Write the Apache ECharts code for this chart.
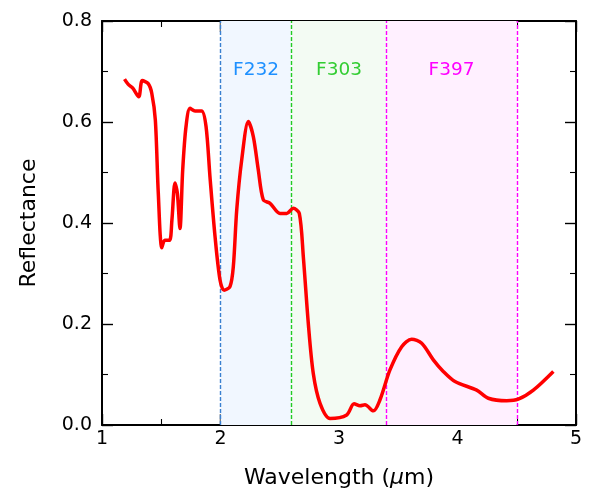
<!DOCTYPE html>
<html>
<head>
    <title>Reflectance spectrum</title>
    <meta charset="utf-8" />
    <script src="https://cdn.jsdelivr.net/npm/echarts@6/dist/echarts.min.js"></script>
    <style type="text/css">
        html,
        body {
            width: 100%;
            height: 100%;
            margin: 0;
        }

        #chart {
            width: 600px;
            height: 500px;
        }
    </style>
</head>

<body>
    <div id="chart"></div>
    <script>
        // wavelength (um) and reflectance
        var wavelength = [1.19, 1.22, 1.26, 1.31, 1.34, 1.39, 1.42, 1.45, 1.475, 1.505, 1.53, 1.57, 1.59,
            1.616, 1.636, 1.658, 1.681, 1.709, 1.743, 1.785, 1.841, 1.878, 1.911, 1.954, 1.996, 2.03,
            2.08, 2.108, 2.137, 2.179, 2.235, 2.277, 2.319, 2.361, 2.418, 2.502, 2.559, 2.614, 2.665,
            2.699, 2.741, 2.783, 2.84, 2.924, 3.065, 3.127, 3.177, 3.219, 3.29, 3.346, 3.43, 3.529,
            3.613, 3.698, 3.796, 3.88, 3.979, 4.162, 4.26, 4.415, 4.513, 4.64, 4.809];
        var reflectance = [0.685, 0.675, 0.667, 0.65, 0.682, 0.676, 0.657, 0.604, 0.459, 0.351, 0.366, 0.366, 0.406,
            0.479, 0.459, 0.389, 0.505, 0.591, 0.627, 0.622, 0.622, 0.591, 0.492, 0.373, 0.287, 0.267,
            0.274, 0.313, 0.426, 0.525, 0.601, 0.571, 0.505, 0.446, 0.439, 0.419, 0.419, 0.429, 0.419,
            0.333, 0.201, 0.102, 0.043, 0.013, 0.02, 0.042, 0.038, 0.04, 0.028, 0.05, 0.109, 0.155,
            0.17, 0.162, 0.129, 0.106, 0.086, 0.069, 0.053, 0.048, 0.051, 0.069, 0.106];

        // filter bands
        var bandNames = ['F232', 'F303', 'F397'];
        var bandStart = [2.0, 2.6, 3.4];
        var bandEnd = [2.6, 3.4, 4.5];
        var bandColors = ['#1e90ff', '#32cd32', '#ff00ff'];
        var bandFills = ['#f1f7ff', '#f3fbf3', '#fff0ff'];
        var edgeColors = ['#3a80d0', '#22cc22', '#ff00ff', '#ff00ff'];
        var edges = [2.0, 2.6, 3.4, 4.5];

        var myChart = echarts.init(document.getElementById('chart'));

        var points = wavelength.map(function (w, i) { return [w, reflectance[i]]; });

        var areas = bandNames.map(function (name, i) {
            return [{
                name: name,
                xAxis: bandStart[i],
                itemStyle: { color: bandFills[i] },
                label: { show: true, color: bandColors[i] }
            }, { xAxis: bandEnd[i] }];
        });
        var lines = edges.map(function (x, i) {
            return { xAxis: x, lineStyle: { color: edgeColors[i] } };
        });

        var tickStyle = { inside: true, length: 11, lineStyle: { color: '#000', width: 1.4 } };
        var minorStyle = { show: true, splitNumber: 2, length: 6, lineStyle: { color: '#000', width: 1.1 } };
        var lineAx = { show: true, onZero: false, lineStyle: { color: '#000', width: 2 } };
        var font = 'DejaVu Sans';

        option = {
            animation: false,
            grid: { left: 102, right: 24, top: 21, bottom: 75 },
            xAxis: [{
                type: 'value',
                min: 1,
                max: 5,
                interval: 1,
                name: 'Wavelength ({it|\u03bc}m)',
                nameLocation: 'middle',
                nameGap: 42,
                nameTextStyle: {
                    fontFamily: font, fontSize: 22, color: '#000',
                    rich: { it: { fontFamily: font, fontSize: 22, fontStyle: 'italic', color: '#000' } }
                },
                axisLine: lineAx,
                axisTick: tickStyle,
                minorTick: minorStyle,
                splitLine: { show: false },
                axisLabel: { fontFamily: font, fontSize: 19, color: '#000', margin: 5 }
            }, {
                type: 'value',
                position: 'top',
                min: 1,
                max: 5,
                interval: 1,
                axisLine: lineAx,
                axisTick: tickStyle,
                minorTick: minorStyle,
                splitLine: { show: false },
                axisLabel: { show: false }
            }],
            yAxis: [{
                type: 'value',
                min: 0,
                max: 0.8,
                interval: 0.2,
                name: 'Reflectance',
                nameLocation: 'middle',
                nameGap: 62,
                nameTextStyle: { fontFamily: font, fontSize: 22, color: '#000' },
                axisLine: lineAx,
                axisTick: tickStyle,
                minorTick: minorStyle,
                splitLine: { show: false },
                axisLabel: {
                    fontFamily: font, fontSize: 19, color: '#000', margin: 10,
                    formatter: function (v) { return v.toFixed(1); }
                }
            }, {
                type: 'value',
                position: 'right',
                min: 0,
                max: 0.8,
                interval: 0.2,
                axisLine: lineAx,
                axisTick: tickStyle,
                minorTick: minorStyle,
                splitLine: { show: false },
                axisLabel: { show: false }
            }],
            series: [{
                type: 'line',
                data: points,
                smooth: 0.3,
                showSymbol: false,
                lineStyle: { color: '#ff0000', width: 3.5 },
                z: 5,
                markArea: {
                    silent: true,
                    label: {
                        position: ['50%', 49],
                        align: 'center',
                        verticalAlign: 'middle',
                        fontFamily: font,
                        fontSize: 18.5
                    },
                    data: areas
                },
                markLine: {
                    silent: true,
                    symbol: 'none',
                    label: { show: false },
                    lineStyle: { type: [4, 2], width: 1.4 },
                    data: lines
                }
            }]
        };

        myChart.setOption(option);
    </script>
</body>
</html>
